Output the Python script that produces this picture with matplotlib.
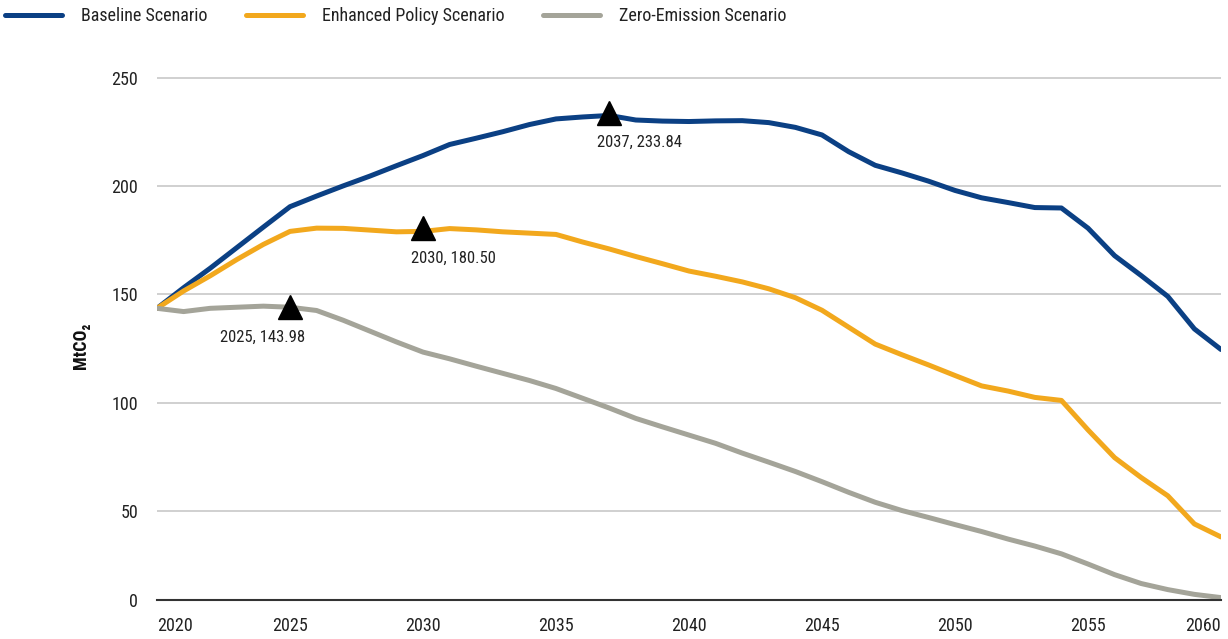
import matplotlib.pyplot as plt

plt.rcParams['font.family'] = ['Roboto Condensed', 'Liberation Sans Narrow', 'DejaVu Sans']
plt.rcParams['font.stretch'] = 'condensed'

# Roční emise podle scénářů (MtCO2)
years = list(range(2020, 2061))
baseline = [143.5, 153, 162, 171.5, 181, 190.4, 195.3, 200, 204.5, 209.3,
            214, 219.1, 222, 225, 228.3, 230.9, 231.8, 232.5, 230.4, 229.9,
            229.7, 230, 230.1, 229.2, 227, 223.5, 215.8, 209.5, 206, 202.2,
            197.9, 194.5, 192.3, 190, 189.8, 180.5, 167.8, 158.6, 149, 134,
            124.5]
enhanced = [143.5, 151.5, 158.5, 166, 173, 179, 180.5, 180.4, 179.6, 178.8,
            179, 180.3, 179.7, 178.8, 178.2, 177.6, 174.1, 170.9, 167.4, 164.1,
            160.7, 158.3, 155.7, 152.5, 148.4, 142.6, 134.8, 127, 122.1, 117.4,
            112.5, 107.7, 105.3, 102.4, 101, 87.4, 74.6, 65.4, 57, 44,
            38]
zero_emission = [143.5, 142, 143.5, 144, 144.5, 144, 142.5, 138, 133, 128,
                 123.3, 120.2, 116.8, 113.5, 110.2, 106.5, 102, 97.5, 92.7, 88.8,
                 85, 81.2, 76.7, 72.5, 68.2, 63.5, 58.6, 54, 50.2, 47,
                 43.7, 40.5, 37, 33.8, 30.2, 25.5, 20.6, 16.5, 13.7, 11.5,
                 10]

# Vrcholy, které jsou v grafu označené trojúhelníkem
peak_years = [2025, 2030, 2037]
peak_values = [143.98, 180.50, 233.84]

series_names = ['Baseline Scenario', 'Enhanced Policy Scenario', 'Zero-Emission Scenario']
colors = ['#0b4084', '#f2a81d', '#a4a499']

xticks = list(range(2020, 2061, 5))
yticks = [50, 100, 150, 200, 250]
y_floor = 8.9  # spodní hrana grafu, popsaná jako 0

fig = plt.figure(figsize=(12.28, 6.39), dpi=100)
ax = fig.add_axes([157 / 1228, 1 - 600 / 639, (1221 - 157) / 1228, (600 - 73.2) / 639])

for data, name, c in zip([baseline, enhanced, zero_emission], series_names, colors):
    ax.plot(years, data, color=c, lw=3.6, label=name,
            solid_capstyle='round', solid_joinstyle='round')

ax.plot(peak_years, peak_values, '^', color='black', ms=17, zorder=5)

# popisky k vrcholům - první je nalevo od značky, ostatní napravo
for i, (yr, val) in enumerate(zip(peak_years, peak_values)):
    if i == 0:
        ax.annotate(f'{yr}, {val:.2f}', (yr, val), xytext=(11, -21.5),
                    textcoords='offset points', ha='right', va='center',
                    fontsize=12, color='#222222')
    else:
        ax.annotate(f'{yr}, {val:.2f}', (yr, val), xytext=(-8.5, -21.5),
                    textcoords='offset points', ha='left', va='center',
                    fontsize=12, color='#222222')

ax.set_xlim(2020, 2060)
ax.set_ylim(y_floor, 252)

ax.set_xticks(xticks)
ax.set_xticklabels([str(t) for t in xticks])
labels = ax.get_xticklabels()
labels[0].set_ha('left')
labels[-1].set_ha('right')

ax.set_yticks([y_floor] + yticks)
ax.set_yticklabels(['0'] + [str(t) for t in yticks])

ax.tick_params(axis='both', length=0, labelsize=13, colors='#222222')
ax.tick_params(axis='x', pad=12)
ax.tick_params(axis='y', pad=13.5)

ax.grid(axis='y', color='#c8c8c8', lw=1.2)
ax.set_axisbelow(True)
for side in ['top', 'right', 'left']:
    ax.spines[side].set_visible(False)
ax.spines['bottom'].set_color('#333333')
ax.spines['bottom'].set_linewidth(1.5)

fig.text(81 / 1228, 1 - 345.5 / 639, 'MtCO₂', rotation=90, fontsize=13,
         fontweight='bold', ha='center', va='center', color='#111111')

ax.legend(loc='center left', bbox_to_anchor=(5 / 1228, 1 - 16 / 639),
          bbox_transform=fig.transFigure, ncol=3, frameon=False, fontsize=13,
          handlelength=3.15, handletextpad=1.05, columnspacing=2.15,
          borderpad=0, borderaxespad=0, labelcolor='#222222')

fig.savefig('out.png', dpi=100)
